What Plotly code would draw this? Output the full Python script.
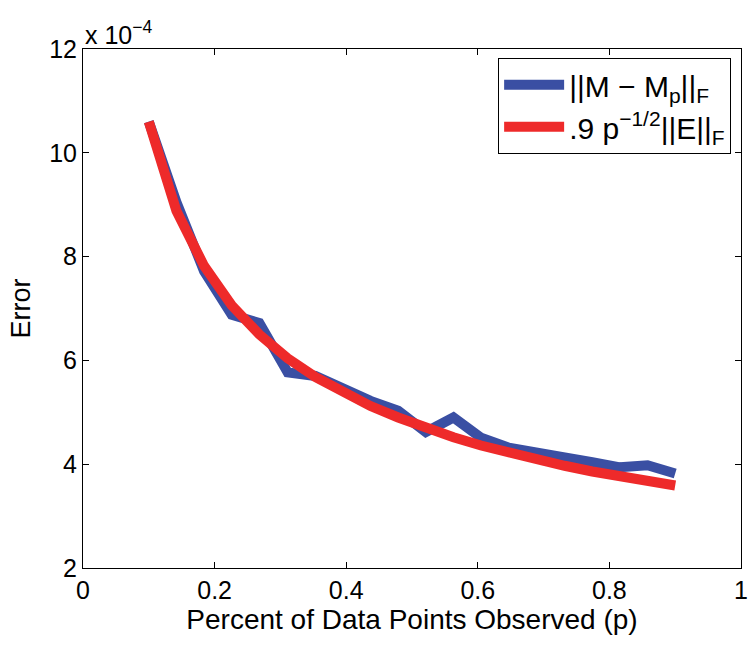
import plotly.graph_objects as go

# percent of data points observed (p)
p_vals = [0.100, 0.142, 0.184, 0.226, 0.268, 0.311, 0.353, 0.395, 0.437, 0.479,
          0.521, 0.563, 0.605, 0.647, 0.689, 0.732, 0.774, 0.816, 0.858, 0.900]
# errors, in units of 1e-4
err_mp = [10.6, 9.05, 7.72, 6.88, 6.72, 5.77, 5.70, 5.45, 5.22, 5.03,
          4.62, 4.90, 4.51, 4.32, 4.25, 4.13, 4.04, 3.94, 3.98, 3.82]
err_bound = [10.6, 8.88, 7.82, 7.06, 6.50, 6.04, 5.68, 5.38, 5.12, 4.90,
             4.69, 4.52, 4.36, 4.22, 4.09, 3.97, 3.86, 3.76, 3.67, 3.59]

x_ticks = [0, 0.2, 0.4, 0.6, 0.8, 1]
x_ticktext = ["0", "0.2", "0.4", "0.6", "0.8", "1"]
y_ticks = [2, 4, 6, 8, 10, 12]
y_ticktext = ["2", "4", "6", "8", "10", "12"]

FONT = "Liberation Sans, Arial, Helvetica, sans-serif"
BLUE = "#3a4fa3"
RED = "#ee2a2a"

fig = go.Figure()
fig.add_trace(go.Scatter(
    x=p_vals, y=err_mp, mode="lines",
    line=dict(color=BLUE, width=10),
    name="||M − M<sub>p</sub>||<sub>F</sub>"))
fig.add_trace(go.Scatter(
    x=p_vals, y=err_bound, mode="lines",
    line=dict(color=RED, width=10),
    name=".9 p<sup>−1/2</sup>||E||<sub>F</sub>"))

axis_common = dict(
    showline=True, linecolor="black", linewidth=1, mirror="ticks",
    ticks="inside", ticklen=6, tickcolor="black", tickwidth=1,
    showgrid=False, zeroline=False, automargin=False,
    tickfont=dict(family=FONT, size=25, color="black"),
)

fig.update_layout(
    width=752, height=645,
    margin=dict(l=83, r=11, t=49, b=77),
    paper_bgcolor="white", plot_bgcolor="white",
    font=dict(family=FONT, color="black"),
    xaxis=dict(range=[0, 1], tickvals=x_ticks, ticktext=x_ticktext,
               title=dict(text="Percent of Data Points Observed (p)",
                          font=dict(family=FONT, size=28), standoff=2),
               **axis_common),
    yaxis=dict(range=[2, 12], tickvals=y_ticks, ticktext=y_ticktext,
               title=dict(text="Error", font=dict(family=FONT, size=27), standoff=10),
               **axis_common),
    legend=dict(x=0.985, y=0.983, xanchor="right", yanchor="top",
                bordercolor="black", borderwidth=1, bgcolor="white",
                font=dict(family=FONT, size=30, color="black"),
                itemwidth=60, tracegroupgap=0),
    showlegend=True,
)

fig.add_annotation(
    xref="paper", yref="paper", x=0, y=1, xanchor="left", yanchor="bottom",
    text="x 10<sup>−4</sup>", showarrow=False,
    font=dict(family=FONT, size=25, color="black"), yshift=-2)

fig.write_html("out.html",
               config={"displayModeBar": False},
               post_script="document.body.style.margin='0';document.body.style.overflow='hidden';")
